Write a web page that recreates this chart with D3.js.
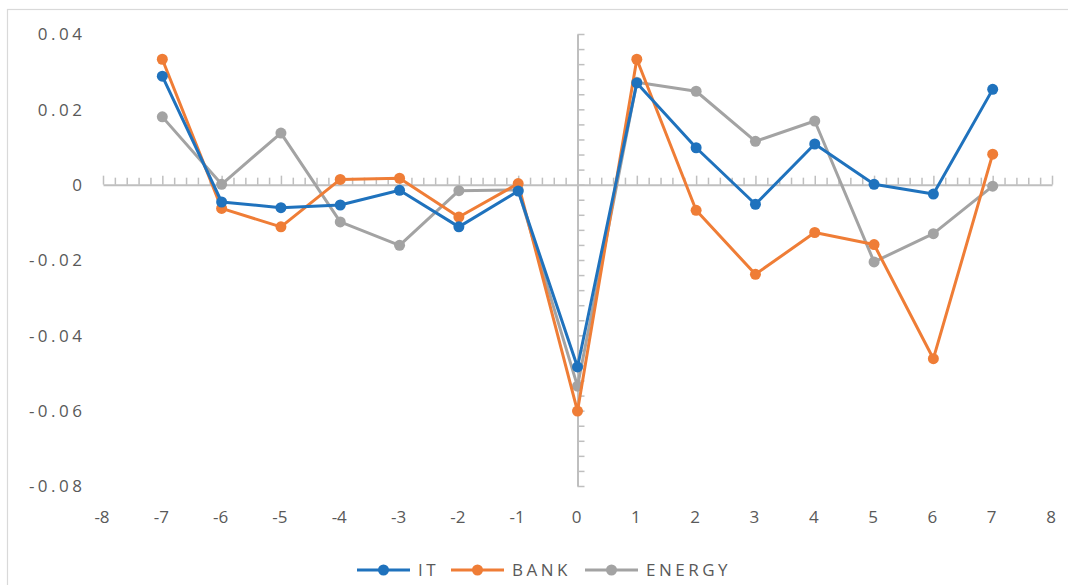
<!DOCTYPE html>
<html>
<head>
<meta charset="utf-8">
<script src="https://cdn.jsdelivr.net/npm/d3@7"></script>
<style>
  html, body { margin: 0; padding: 0; background: #ffffff; }
  svg { display: block; }
  text { font-family: "Open Sans", "Liberation Sans", sans-serif; fill: #595959; }
</style>
</head>
<body>
<svg id="chart" width="1068" height="585"></svg>
<script>
// Event days relative to the announcement
const days = [-7, -6, -5, -4, -3, -2, -1, 0, 1, 2, 3, 4, 5, 6, 7];

// Average abnormal returns per sector
const itValues     = [0.0288, -0.0046, -0.0061, -0.0054, -0.0015, -0.0112, -0.0017, -0.0484, 0.0270, 0.0098, -0.0052, 0.0108, 0.0001, -0.0025, 0.0253];
const bankValues   = [0.0333, -0.0063, -0.0112, 0.0014, 0.0017, -0.0086, 0.0003, -0.0601, 0.0333, -0.0068, -0.0238, -0.0127, -0.0159, -0.0462, 0.0081];
const energyValues = [0.0180, 0.0001, 0.0137, -0.0099, -0.0161, -0.0016, -0.0014, -0.0535, 0.0272, 0.0248, 0.0115, 0.0169, -0.0205, -0.0130, -0.0004];

const seriesNames  = ["IT", "BANK", "ENERGY"];
const seriesColors = ["#1f72bd", "#ef7d36", "#a3a3a3"];

// Axis tick labels
const xTickValues = [-8, -7, -6, -5, -4, -3, -2, -1, 0, 1, 2, 3, 4, 5, 6, 7, 8];
const yTickValues = [0.04, 0.02, 0, -0.02, -0.04, -0.06, -0.08];
const yTickLabels = ["0.04", "0.02", "0", "-0.02", "-0.04", "-0.06", "-0.08"];

const series = [
  { name: seriesNames[0], color: seriesColors[0], values: itValues },
  { name: seriesNames[1], color: seriesColors[1], values: bankValues },
  { name: seriesNames[2], color: seriesColors[2], values: energyValues }
];

const svg = d3.select("#chart");
const axisColor = "#bfbfbf";

// Chart frame
svg.append("rect")
  .attr("x", 7.5).attr("y", 9.5)
  .attr("width", 1080).attr("height", 600)
  .attr("fill", "none")
  .attr("stroke", "#d9d9d9")
  .attr("stroke-width", 1.2);

const x = d3.scaleLinear().domain([-8, 8]).range([103, 1052]);
const y = d3.scaleLinear().domain([-0.08, 0.04]).range([486, 34]);

// Horizontal axis through y = 0, with minor ticks every 0.2 and taller ones at integers
const xMinor = d3.range(-80, 81, 2).map(d => d / 10);
const xAxisG = svg.append("g")
  .attr("transform", `translate(0,${y(0)})`)
  .call(d3.axisTop(x).tickValues(xMinor).tickSize(7).tickSizeOuter(0).tickFormat(""));
xAxisG.selectAll(".tick line")
  .attr("y2", d => Math.abs(d - Math.round(d)) < 1e-9 ? -9 : -7);
xAxisG.select(".domain").attr("stroke", axisColor).attr("stroke-width", 2);
xAxisG.selectAll(".tick line").attr("stroke", axisColor).attr("stroke-width", 1.5);

// Vertical axis through x = 0, ticks every 0.004 pointing right
const yMinor = d3.range(-20, 11, 1).map(d => d * 0.004);
const yAxisG = svg.append("g")
  .attr("transform", `translate(${x(0)},0)`)
  .call(d3.axisRight(y).tickValues(yMinor).tickSize(7).tickSizeOuter(0).tickFormat(""));
yAxisG.select(".domain").attr("stroke", axisColor).attr("stroke-width", 2);
yAxisG.selectAll(".tick line").attr("stroke", axisColor).attr("stroke-width", 1.5);

// Value labels along the left edge
const ySpacing = 3.5;
svg.append("g").selectAll("text")
  .data(yTickValues)
  .join("text")
  .attr("x", 82 + ySpacing)
  .attr("y", d => y(d) + 6.3)
  .attr("text-anchor", "end")
  .attr("font-size", 17)
  .attr("letter-spacing", ySpacing)
  .text((d, i) => yTickLabels[i]);

// Day labels along the bottom
svg.append("g").selectAll("text")
  .data(xTickValues)
  .join("text")
  .attr("x", d => x(d) - 1)
  .attr("y", 522.5)
  .attr("text-anchor", "middle")
  .attr("font-size", 17)
  .text(d => String(d));

// Series lines and markers; ENERGY underneath, IT on top
const line = d3.line()
  .x((d, i) => x(days[i]))
  .y(d => y(d));

const drawOrder = [series[2], series[1], series[0]];
drawOrder.forEach(s => {
  const g = svg.append("g");
  g.append("path")
    .datum(s.values)
    .attr("d", line)
    .attr("fill", "none")
    .attr("stroke", s.color)
    .attr("stroke-width", 3)
    .attr("stroke-linejoin", "round");
  g.selectAll("circle")
    .data(s.values)
    .join("circle")
    .attr("cx", (d, i) => x(days[i]))
    .attr("cy", d => y(d))
    .attr("r", 5.5)
    .attr("fill", s.color);
});

// Legend
const legendX = [357, 451, 585];
const legend = svg.append("g");
series.forEach((s, i) => {
  const lx = legendX[i];
  const ly = 570;
  legend.append("line")
    .attr("x1", lx).attr("x2", lx + 53)
    .attr("y1", ly).attr("y2", ly)
    .attr("stroke", s.color).attr("stroke-width", 3);
  legend.append("circle")
    .attr("cx", lx + 26.5).attr("cy", ly).attr("r", 5.5)
    .attr("fill", s.color);
  legend.append("text")
    .attr("x", lx + 61)
    .attr("y", ly + 6.2)
    .attr("font-size", 17)
    .attr("letter-spacing", 3.5)
    .text(s.name);
});
</script>
</body>
</html>
